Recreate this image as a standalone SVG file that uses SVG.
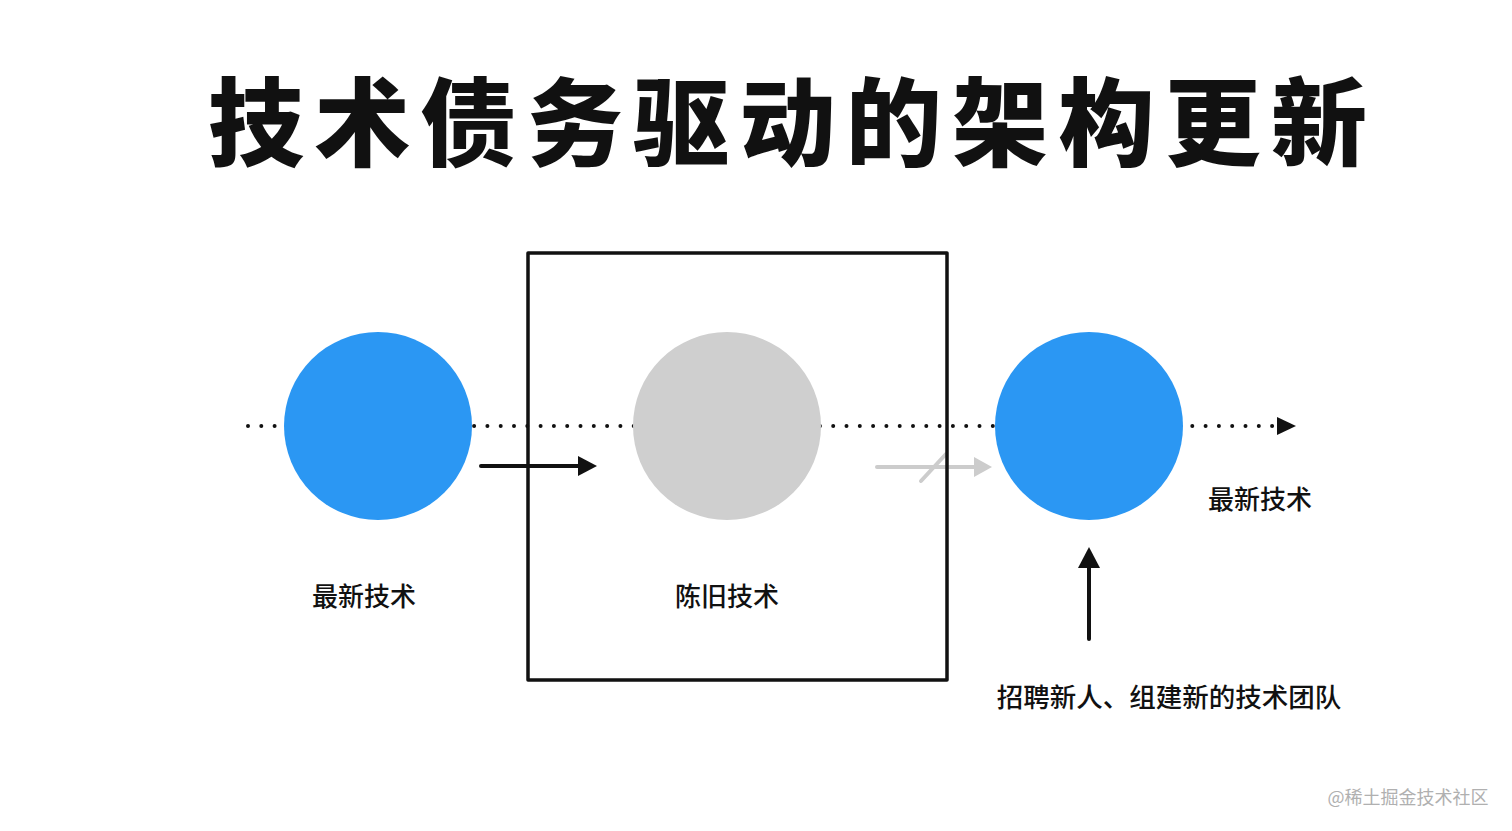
<svg xmlns="http://www.w3.org/2000/svg" width="1512" height="831" viewBox="0 0 1512 831">
<style>
.lbl{font-family:"Noto Sans CJK SC","Noto Sans",sans-serif;font-size:26px;font-weight:500;fill:#111}
.title{font-family:"Noto Sans CJK SC",serif;font-size:96px;font-weight:900;fill:#111;letter-spacing:10.3px}
.dot{stroke:#111;stroke-width:4;stroke-linecap:round;stroke-dasharray:0 13.3;fill:none}
.arr{stroke:#111;stroke-width:4;stroke-linecap:round;fill:none}
.garr{stroke:#ccc;stroke-width:4;stroke-linecap:round;fill:none}
.head{fill:#111}
.ghead{fill:#ccc}
</style>
<rect width="1512" height="831" fill="#fff"/>
<text class="title" x="208" y="158">技术债务驱动的架构更新</text>
<g id="connectors">
<path class="dot" d="M248,426 H1278"/>
<path class="head" d="M1277,417 L1296,426 L1277,435 z"/>
<path class="arr" d="M481,466 H582"/>
<path class="head" d="M578,456 L597,466 L578,476 z"/>
<path class="garr" d="M877,467 H978"/>
<path class="ghead" d="M974,457 L992,467 L974,477 z"/>
<path class="garr" d="M921,481 L946,454"/>
<path class="arr" d="M1089,639 V565"/>
<path class="head" d="M1078,568 L1089,547 L1100,568 z"/>
</g>
<g id="box"><rect x="528" y="253" width="419" height="427" fill="none" stroke="#111" stroke-width="3.5" stroke-linejoin="round"/></g>
<g id="node-left"><circle cx="378" cy="426" r="94" fill="#2b97f3"/><text class="lbl" x="364" y="606" text-anchor="middle">最新技术</text></g>
<g id="node-mid"><circle cx="727" cy="426" r="94" fill="#cfcfcf"/><text class="lbl" x="727" y="606" text-anchor="middle">陈旧技术</text></g>
<g id="node-right"><circle cx="1089" cy="426" r="94" fill="#2b97f3"/><text class="lbl" x="1260" y="509" text-anchor="middle">最新技术</text></g>
<g id="node-team"><text class="lbl" x="1169" y="707" text-anchor="middle" style="font-size:26.5px">招聘新人、组建新的技术团队</text></g>
<text x="1408" y="804" text-anchor="middle" style="font-family:'Noto Sans CJK SC',sans-serif;font-size:18px;fill:#b0b0b0">@稀土掘金技术社区</text>
</svg>
